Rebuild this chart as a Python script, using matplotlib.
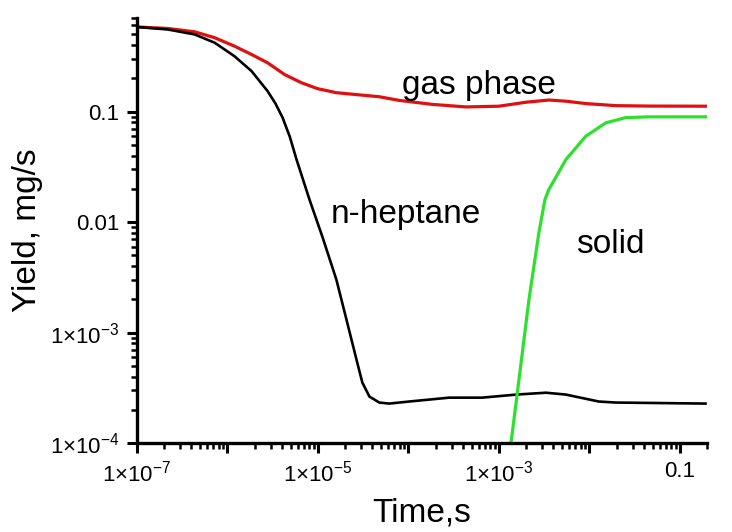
import matplotlib
matplotlib.use('Agg')
import matplotlib.pyplot as plt
from matplotlib.ticker import FixedLocator, FixedFormatter, LogLocator, NullFormatter

plt.rcParams['font.family'] = ['Liberation Sans', 'DejaVu Sans']
plt.rcParams['mathtext.fontset'] = 'custom'
plt.rcParams['mathtext.rm'] = 'Liberation Sans'
plt.rcParams['mathtext.it'] = 'Liberation Sans:italic'

# gas phase (red)
gas_t = [1.0e-7, 2.20e-7, 4.35e-7, 7.24e-7, 1.20e-6, 1.85e-6, 2.78e-6, 4.29e-6,
         6.59e-6, 9.91e-6, 1.60e-5, 4.77e-5, 7.94e-5, 1.84e-4, 4.35e-4, 1.00e-3,
         2.00e-3, 3.57e-3, 5.51e-3, 9.14e-3, 1.96e-2, 4.53e-2, 0.192]
gas_y = [0.582, 0.564, 0.526, 0.465, 0.390, 0.328, 0.276, 0.216,
         0.182, 0.161, 0.148, 0.136, 0.126, 0.116, 0.110, 0.1117,
         0.1214, 0.127, 0.124, 0.118, 0.113, 0.112, 0.1117]

# n-heptane (black)
hep_t = [1.0e-7, 2.20e-7, 4.35e-7, 7.24e-7, 1.20e-6, 1.85e-6, 2.78e-6, 3.40e-6,
         4.07e-6, 4.90e-6, 5.81e-6, 8.07e-6, 1.12e-5, 1.60e-5, 2.07e-5, 2.67e-5,
         3.10e-5, 3.71e-5, 4.77e-5, 6.15e-5, 1.02e-4, 2.82e-4, 6.53e-4, 1.55e-3,
         3.31e-3, 5.51e-3, 1.27e-2, 1.96e-2, 0.192]
hep_y = [0.582, 0.552, 0.498, 0.419, 0.316, 0.232, 0.153, 0.118,
         0.0882, 0.0590, 0.0368, 0.0160, 7.39e-3, 3.02e-3, 1.31e-3, 5.70e-4,
         3.53e-4, 2.64e-4, 2.33e-4, 2.28e-4, 2.38e-4, 2.58e-4, 2.58e-4, 2.75e-4,
         2.86e-4, 2.75e-4, 2.38e-4, 2.33e-4, 2.28e-4]

# solid (green)
sol_t = [1.36e-3, 1.59e-3, 2.15e-3, 2.77e-3, 3.23e-3, 3.57e-3, 5.51e-3, 9.14e-3,
         1.52e-2, 2.52e-2, 4.53e-2, 0.192]
sol_y = [1.0e-4, 2.75e-4, 1.99e-3, 8.04e-3, 0.0160, 0.0197, 0.0368, 0.0598,
         0.0790, 0.0880, 0.0895, 0.0895]

x_major = [1e-7, 1e-6, 1e-5, 1e-4, 1e-3, 1e-2, 1e-1]
x_labels = [r'$\mathregular{1{\times}10^{-7}}$', '', r'$\mathregular{1{\times}10^{-5}}$', '',
            r'$\mathregular{1{\times}10^{-3}}$', '', '0.1']
y_major = [1e-4, 1e-3, 1e-2, 1e-1]
y_labels = [r'$\mathregular{1{\times}10^{-4}}$', r'$\mathregular{1{\times}10^{-3}}$', '0.01', '0.1']

fig = plt.figure(figsize=(7.32, 5.32), dpi=100)
ax = fig.add_axes([0.187, 0.167, 0.779, 0.799])

ax.plot(gas_t, gas_y, color='#e01010', lw=2.3)
ax.plot(hep_t, hep_y, color='black', lw=1.9)
ax.plot(sol_t, sol_y, color='#2ee02e', lw=2.3)

ax.set_xscale('log')
ax.set_yscale('log')
ax.set_xlim(1e-7, 0.2)
ax.set_ylim(1e-4, 0.7)

ax.xaxis.set_major_locator(FixedLocator(x_major))
ax.xaxis.set_major_formatter(FixedFormatter(x_labels))
ax.xaxis.set_minor_locator(LogLocator(base=10, subs=range(2, 10), numticks=20))
ax.xaxis.set_minor_formatter(NullFormatter())
ax.yaxis.set_major_locator(FixedLocator(y_major))
ax.yaxis.set_major_formatter(FixedFormatter(y_labels))
ax.yaxis.set_minor_locator(LogLocator(base=10, subs=range(2, 10), numticks=20))
ax.yaxis.set_minor_formatter(NullFormatter())

for s in ['top', 'right']:
    ax.spines[s].set_visible(False)
for s in ['left', 'bottom']:
    ax.spines[s].set_linewidth(2.4)

ax.tick_params(which='major', direction='out', length=7.5, width=2.2, labelsize=16, pad=5)
ax.tick_params(which='minor', direction='out', length=4.5, width=1.8)

ax.set_xlabel('Time,s', fontsize=24, labelpad=8)
ax.set_ylabel('Yield, mg/s', fontsize=24, labelpad=5)

ax.text(8.6e-5, 0.143, 'gas phase', fontsize=24, ha='left', va='baseline')
ax.text(1.4e-5, 9.9e-3, 'n-heptane', fontsize=24, ha='left', va='baseline')
ax.text(7.1e-3, 5.3e-3, 'solid', fontsize=24, ha='left', va='baseline')

fig.savefig('out.png', dpi=100)
